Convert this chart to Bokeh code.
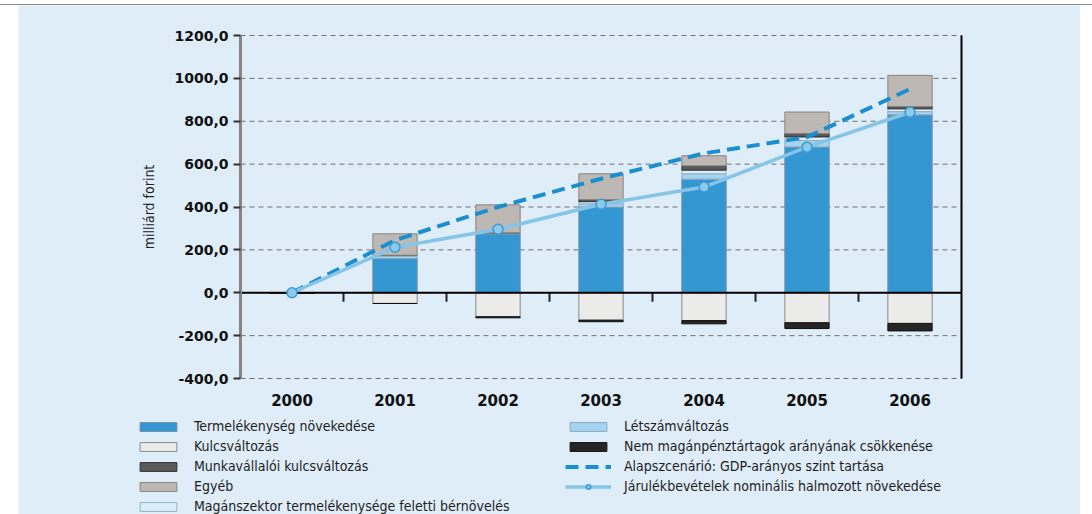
from bokeh.plotting import figure
from bokeh.models import (ColumnDataSource, Range1d, Legend, LegendItem, LinearAxis,
                          CustomJSTickFormatter, FixedTicker, Div)
from bokeh.layouts import column
from bokeh.embed import file_html
from bokeh.resources import INLINE

# ---- data (milliárd forint) ----
years = ["2000", "2001", "2002", "2003", "2004", "2005", "2006"]
termelekenyseg = [0, 160, 275, 400, 530, 680, 830]
letszam = [0, 10, 5, 15, 25, 30, 15]
magan = [0, 5, 0, 10, 17, 17, 13]
munkavallaloi = [0, 0, 0, 10, 20, 16, 11]
egyeb = [0, 100, 130, 120, 47, 100, 145]
kulcs = [0, -50, -112, -128, -130, -140, -143]
nem_magan = [0, 0, -5, -7, -15, -27, -35]
alapszcenario = [0, 245, 400, 532, 650, 726, 950]
jarulek = [0, 212, 296, 413, 493, 679, 842]
y_ticks = [-400, -200, 0, 200, 400, 600, 800, 1000, 1200]

labels = {
    "t": "Termelékenység növekedése",
    "k": "Kulcsváltozás",
    "mu": "Munkavállalói kulcsváltozás",
    "e": "Egyéb",
    "m": "Magánszektor termelékenysége feletti bérnövelés",
    "l": "Létszámváltozás",
    "n": "Nem magánpénztártagok arányának csökkenése",
    "a": "Alapszcenárió: GDP-arányos szint tartása",
    "j": "Járulékbevételek nominális halmozott növekedése",
}

xi = list(range(len(years)))
src = ColumnDataSource(dict(xi=xi, year=years, t=termelekenyseg, l=letszam, m=magan,
                            mu=munkavallaloi, e=egyeb, k=kulcs, n=nem_magan,
                            a=alapszcenario, j=jarulek))

# ---- layout geometry (pixels) ----
FIG_W, FIG_H = 1062, 509
AX_LEFT_PX, AX_RIGHT_PX = 222, 943      # plot area edges inside the figure
AX_TOP_PX, AX_BOTTOM_PX = 30, 373
cat_px = (AX_RIGHT_PX - AX_LEFT_PX) / len(years)
x_lo = -0.5 - AX_LEFT_PX / cat_px
x_hi = len(years) - 0.5 + (FIG_W - AX_RIGHT_PX) / cat_px
u_per_px = (y_ticks[-1] - y_ticks[0]) / (AX_BOTTOM_PX - AX_TOP_PX)
y_hi = y_ticks[-1] + AX_TOP_PX * u_per_px
y_lo = y_ticks[0] - (FIG_H - AX_BOTTOM_PX) * u_per_px

BG = "#deedf8"
NARROW = "DejaVu Sans Condensed"
BOLD = "DejaVu Sans"

bar_style = {
    "t": dict(fill_color="#3597d2", line_color="#6f8ea3"),
    "l": dict(fill_color="#a6d3ef", line_color="#8aaac0"),
    "m": dict(fill_color="#d8eefa", line_color="#9ab0c0"),
    "mu": dict(fill_color="#5a5a5a", line_color="#333333"),
    "e": dict(fill_color="#bdb8b3", line_color="#8a8580"),
    "k": dict(fill_color="#ebebea", line_color="#8a8a8a"),
    "n": dict(fill_color="#262626", line_color="#111111"),
}
dash_style = dict(line_color="#1b8ecf", line_width=4, line_dash="13 7")
jl_style = dict(line_color="#86c4e8", line_width=3.5)
js_style = dict(marker="circle", size=10, fill_color="#8ccaeb", line_color="#3d9ad4", line_width=1.5)

p = figure(width=FIG_W, height=FIG_H, x_range=Range1d(x_lo, x_hi), y_range=Range1d(y_lo, y_hi),
           x_axis_type=None, y_axis_type=None, output_backend="svg", toolbar_location=None,
           min_border=0, min_border_left=0, min_border_right=0, min_border_top=0,
           min_border_bottom=0, background_fill_color=BG, border_fill_color=BG,
           outline_line_color=None, margin=(0, 12, 0, 18))
p.xgrid.visible = False
p.ygrid.visible = False

# dashed horizontal grid lines across the plot area
grid_y = [t for t in y_ticks if t != 0]
grid_src = ColumnDataSource(dict(y=grid_y, x0=[-0.5] * len(grid_y),
                                 x1=[len(years) - 0.5] * len(grid_y)))
p.segment(x0="x0", x1="x1", y0="y", y1="y", source=grid_src,
          line_color="#707070", line_width=1, line_dash="5 4")

# y axis
yax = LinearAxis(fixed_location=-0.5, bounds=(y_ticks[0], y_ticks[-1]),
                 ticker=FixedTicker(ticks=y_ticks),
                 formatter=CustomJSTickFormatter(code="return tick.toFixed(1).replace('.', ',');"))
yax.axis_line_color = "#858585"
yax.axis_line_width = 3
yax.major_tick_line_color = "#333333"
yax.major_tick_line_width = 2
yax.major_tick_out = 7
yax.major_tick_in = 0
yax.minor_tick_line_color = None
yax.major_label_standoff = 5
yax.major_label_text_font = BOLD
yax.major_label_text_font_style = "bold"
yax.major_label_text_font_size = "14px"
yax.major_label_text_color = "#111111"
yax.axis_label = "milliárd forint"
yax.axis_label_text_font = NARROW
yax.axis_label_text_font_style = "normal"
yax.axis_label_text_font_size = "14px"
yax.axis_label_text_color = "#222222"
yax.axis_label_standoff = 14
p.add_layout(yax, "left")

# right border line
rax = LinearAxis(fixed_location=len(years) - 0.5, bounds=(y_ticks[0], y_ticks[-1]),
                 ticker=FixedTicker(ticks=[]), axis_line_color="black", axis_line_width=2,
                 major_tick_line_color=None, minor_tick_line_color=None)
p.add_layout(rax, "right")

# year labels under the plot area
xax = LinearAxis(fixed_location=y_ticks[0], ticker=FixedTicker(ticks=xi),
                 major_label_overrides={i: y for i, y in zip(xi, years)},
                 axis_line_color=None, major_tick_line_color=None, minor_tick_line_color=None)
xax.major_label_standoff = 9
xax.major_label_text_font = BOLD
xax.major_label_text_font_style = "bold"
xax.major_label_text_font_size = "15px"
xax.major_label_text_color = "#111111"
p.add_layout(xax, "below")

# bars
pos_keys = ["t", "l", "m", "mu", "e"]
neg_keys = ["k", "n"]
pos = p.vbar_stack(pos_keys, x="xi", width=0.43, source=src, line_width=1,
                   fill_color=[bar_style[k]["fill_color"] for k in pos_keys],
                   line_color=[bar_style[k]["line_color"] for k in pos_keys])
neg = p.vbar_stack(neg_keys, x="xi", width=0.43, source=src, line_width=1,
                   fill_color=[bar_style[k]["fill_color"] for k in neg_keys],
                   line_color=[bar_style[k]["line_color"] for k in neg_keys])

# zero line with category separator ticks
sep_x = [i + 0.5 for i in xi[:-1]]
sep_src = ColumnDataSource(dict(x=sep_x, y0=[0] * len(sep_x), y1=[-9 * u_per_px] * len(sep_x)))
p.segment(x0="x", x1="x", y0="y0", y1="y1", source=sep_src, line_color="#222222", line_width=2)
zero_src = ColumnDataSource(dict(x0=[-0.5], x1=[len(years) - 0.5], y=[0]))
p.segment(x0="x0", x1="x1", y0="y", y1="y", source=zero_src, line_color="black", line_width=2)

# lines
r_a = p.line(x="xi", y="a", source=src, **dash_style)
r_jl = p.line(x="xi", y="j", source=src, **jl_style)
r_js = p.scatter(x="xi", y="j", source=src, **js_style)

rend = dict(zip(pos_keys, [[r] for r in pos]))
rend.update(dict(zip(neg_keys, [[r] for r in neg])))
rend["a"] = [r_a]
rend["j"] = [r_jl, r_js]


def make_legend(keys, loc):
    lg = Legend(items=[LegendItem(label=labels[k], renderers=rend[k]) for k in keys],
                location=loc, orientation="vertical")
    lg.background_fill_alpha = 0
    lg.border_line_alpha = 0
    lg.padding = 0
    lg.margin = 0
    lg.spacing = 0
    lg.glyph_width = 46
    lg.glyph_height = 11
    lg.label_height = 20
    lg.label_standoff = 13
    lg.label_text_font = NARROW
    lg.label_text_font_size = "14px"
    lg.label_text_color = "#1e1e1e"
    return lg


p.add_layout(make_legend(["t", "k", "mu", "e", "m"], (117, -2)))
p.add_layout(make_legend(["l", "n", "a", "j"], (547, 18)))

top_line = Div(text="", width=1092, height=1, margin=(4, 0, 0, 0),
               styles={"background-color": "#8a8a8a"})
layout = column(top_line, p, spacing=0)

open("out.html", "w").write(file_html(layout, INLINE))
